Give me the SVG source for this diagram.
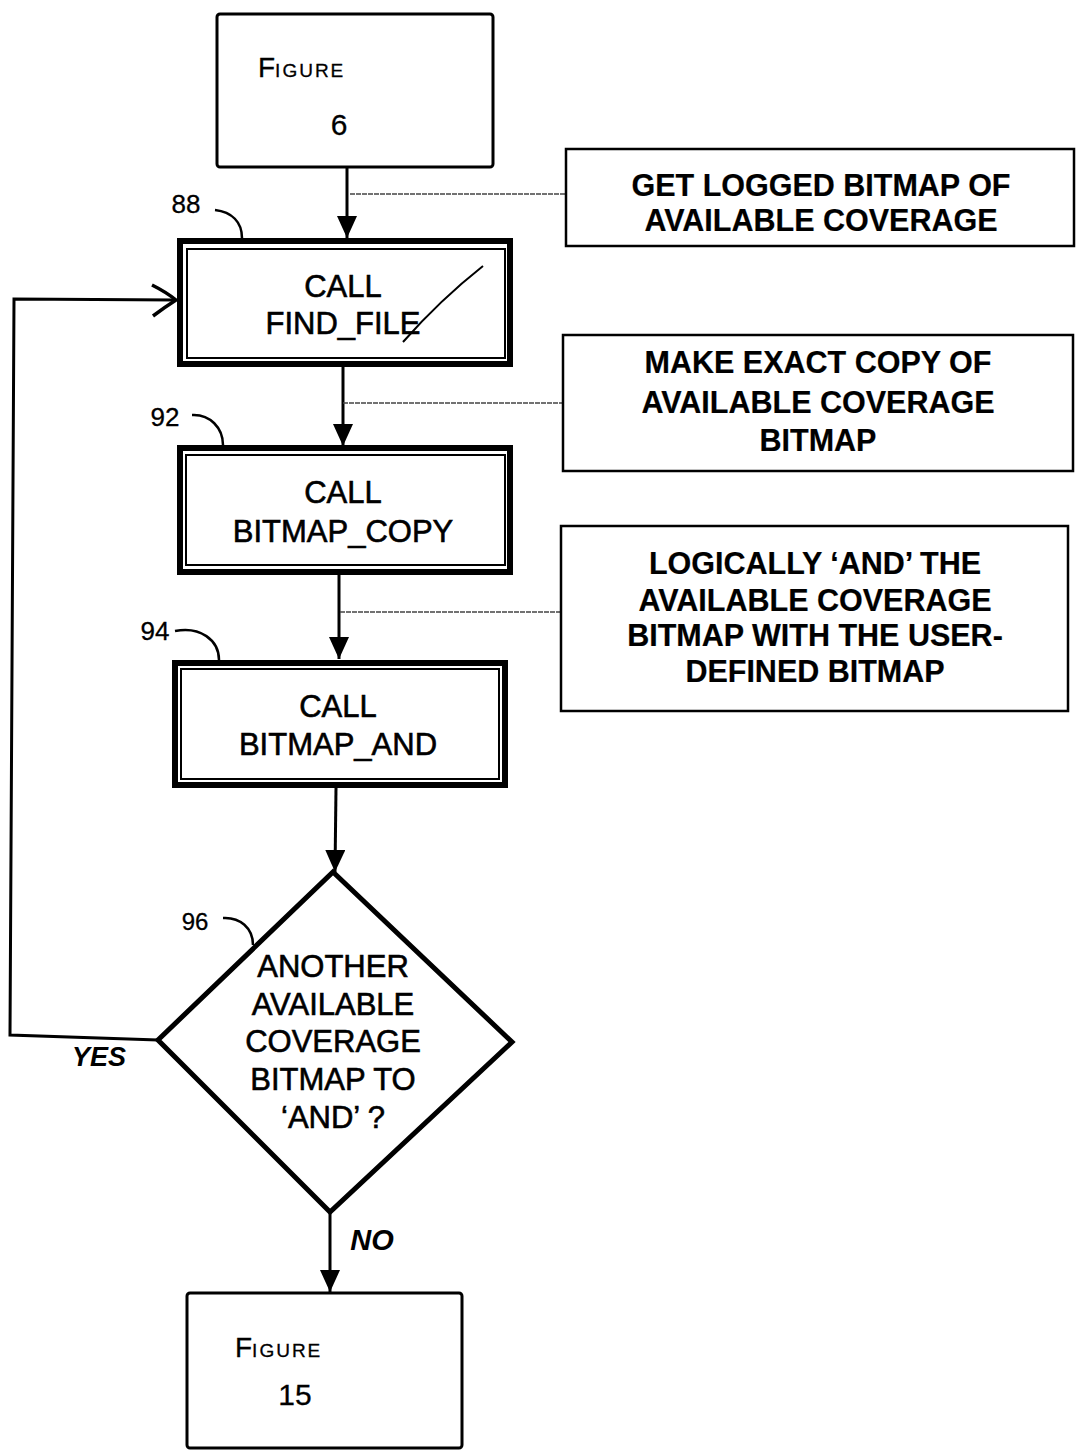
<svg xmlns="http://www.w3.org/2000/svg" width="1078" height="1452" viewBox="0 0 1078 1452">
<style>
.t{font-family:"Liberation Sans",Arial,sans-serif;font-size:31px;text-anchor:middle;fill:#000;stroke:#000;stroke-width:0.6px}
.s{font-weight:bold;font-size:30.5px;stroke-width:0.2px}
.lbl{font-family:"Liberation Sans",Arial,sans-serif;font-weight:bold;font-style:italic;fill:#000}
.hand{font-family:"Liberation Sans",Arial,sans-serif;fill:#000;stroke:#000;stroke-width:0.3px}
.plain{fill:#fff;stroke:#000;stroke-width:3}
.outer{fill:#fff;stroke:#000;stroke-width:6}
.inner{fill:none;stroke:#000;stroke-width:2}
.sidebox{fill:#fff;stroke:#000;stroke-width:2.5}
.flow{fill:none;stroke:#000;stroke-width:3}
.note{fill:none;stroke:#444;stroke-width:1.5;stroke-dasharray:5 1}
.ref{fill:none;stroke:#000;stroke-width:2.5}
</style>
<defs>
<marker id="ah" markerWidth="22" markerHeight="20" refX="22" refY="10" orient="auto" markerUnits="userSpaceOnUse">
<path d="M0,0 L22,10 L0,20 Z" fill="#000"/>
</marker>
</defs>

<g id="connectors">
<line class="flow" x1="347" y1="167" x2="347" y2="238" marker-end="url(#ah)"/>
<line class="flow" x1="343" y1="367" x2="343" y2="446" marker-end="url(#ah)"/>
<line class="flow" x1="339" y1="575" x2="339" y2="659" marker-end="url(#ah)"/>
<line class="flow" x1="336" y1="788" x2="335" y2="872" marker-end="url(#ah)"/>
<line class="flow" x1="330" y1="1212" x2="330" y2="1292" marker-end="url(#ah)"/>
<polyline class="flow" points="158,1040 10,1035 14,299 176,300"/>
<path d="M152,285 Q166,292 176,300 Q165,307 153,316" fill="none" stroke="#000" stroke-width="3.5"/>
<line class="note" x1="350" y1="194" x2="566" y2="194"/>
<line class="note" x1="343" y1="403" x2="563" y2="403"/>
<line class="note" x1="340" y1="612" x2="561" y2="612"/>
<text class="lbl" x="99" y="1066" font-size="27" text-anchor="middle">YES</text>
<text class="lbl" x="372" y="1250" font-size="29" text-anchor="middle">NO</text>
</g>

<g id="figure6">
<rect class="plain" x="217" y="14" width="276" height="153" rx="3"/>
<text class="hand" x="258" y="77"><tspan font-size="28">F</tspan><tspan font-size="19" letter-spacing="2">IGURE</tspan></text>
<text class="hand" x="339" y="135" font-size="30" text-anchor="middle">6</text>
</g>

<g id="find_file">
<rect class="outer" x="180" y="241" width="330" height="123"/>
<rect class="inner" x="187" y="249" width="318" height="109"/>
<text class="t" x="343" y="297">CALL</text>
<text class="t" x="343" y="334">FIND_FILE</text>
<path d="M483,266 Q440,300 403,342" fill="none" stroke="#000" stroke-width="2"/>
<path class="ref" d="M215,210 C232,212 242,222 242,238"/>
<text class="hand" x="186" y="213" font-size="26" text-anchor="middle">88</text>
</g>

<g id="bitmap_copy">
<rect class="outer" x="180" y="448" width="330" height="124"/>
<rect class="inner" x="186" y="455" width="319" height="110"/>
<text class="t" x="343" y="503">CALL</text>
<text class="t" x="343" y="542">BITMAP_COPY</text>
<path class="ref" d="M192,415 C210,414 223,428 223,445"/>
<text class="hand" x="165" y="426" font-size="26" text-anchor="middle">92</text>
</g>

<g id="bitmap_and">
<rect class="outer" x="175" y="663" width="330" height="122"/>
<rect class="inner" x="181" y="669" width="318" height="110"/>
<text class="t" x="338" y="717">CALL</text>
<text class="t" x="338" y="755">BITMAP_AND</text>
<path class="ref" d="M175,631 C200,626 219,640 219,660"/>
<text class="hand" x="155" y="640" font-size="26" text-anchor="middle">94</text>
</g>

<g id="decision">
<polygon points="333,872 512,1042 330,1212 158,1040" fill="#fff" stroke="#000" stroke-width="5" stroke-linejoin="miter"/>
<text class="t" x="333" y="977">ANOTHER</text>
<text class="t" x="333" y="1015">AVAILABLE</text>
<text class="t" x="333" y="1052">COVERAGE</text>
<text class="t" x="333" y="1090">BITMAP TO</text>
<text class="t" x="333" y="1128">‘AND’ ?</text>
<path class="ref" d="M223,918 C240,917 253,928 253,945"/>
<text class="hand" x="195" y="930" font-size="24" text-anchor="middle">96</text>
</g>

<g id="figure15">
<rect class="plain" x="187" y="1293" width="275" height="155" rx="3"/>
<text class="hand" x="235" y="1357"><tspan font-size="28">F</tspan><tspan font-size="19" letter-spacing="2">IGURE</tspan></text>
<text class="hand" x="295" y="1405" font-size="30" text-anchor="middle">15</text>
</g>

<g id="note_get">
<rect class="sidebox" x="566" y="149" width="508" height="97"/>
<text class="t s" x="821" y="196">GET LOGGED BITMAP OF</text>
<text class="t s" x="821" y="231">AVAILABLE COVERAGE</text>
</g>

<g id="note_copy">
<rect class="sidebox" x="563" y="335" width="510" height="136"/>
<text class="t s" x="818" y="373">MAKE EXACT COPY OF</text>
<text class="t s" x="818" y="413">AVAILABLE COVERAGE</text>
<text class="t s" x="818" y="451">BITMAP</text>
</g>

<g id="note_and">
<rect class="sidebox" x="561" y="526" width="507" height="185"/>
<text class="t s" x="815" y="574">LOGICALLY ‘AND’ THE</text>
<text class="t s" x="815" y="611">AVAILABLE COVERAGE</text>
<text class="t s" x="815" y="646">BITMAP WITH THE USER-</text>
<text class="t s" x="815" y="682">DEFINED BITMAP</text>
</g>
</svg>
